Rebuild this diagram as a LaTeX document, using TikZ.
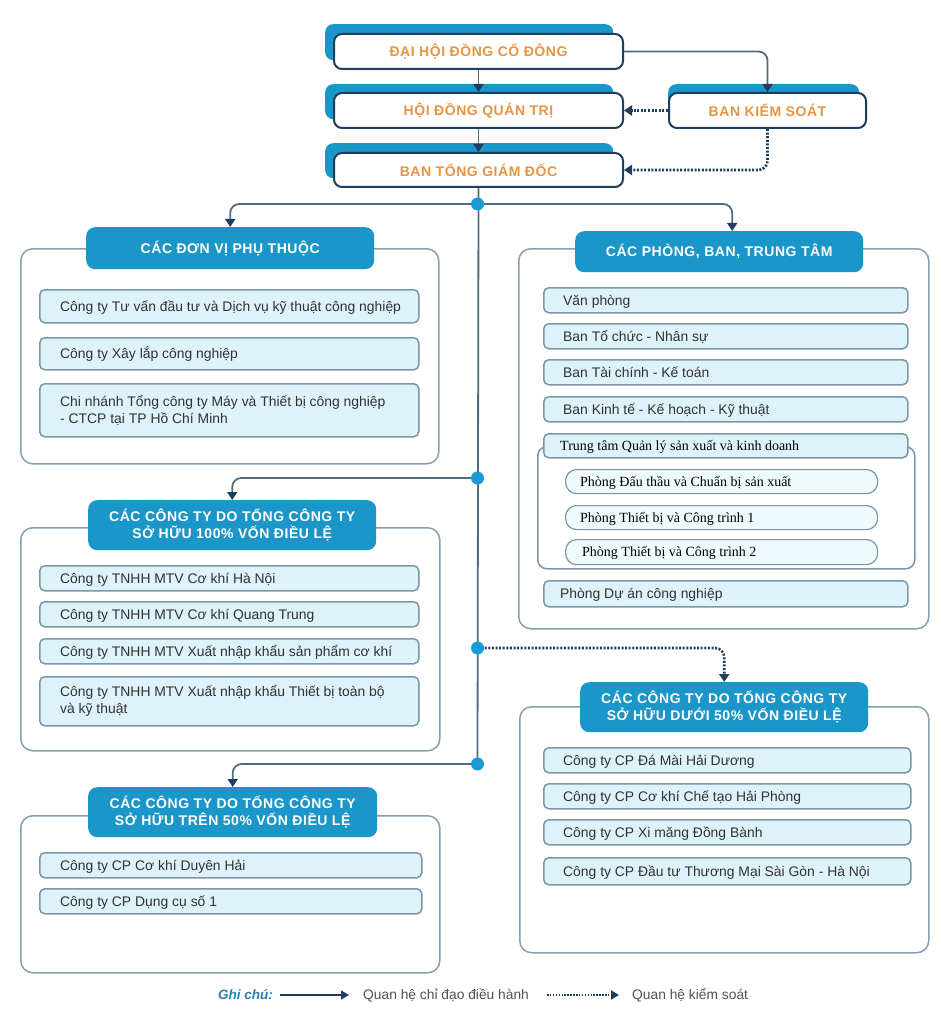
\documentclass[tikz,border=0pt]{standalone}
\usepackage{fontspec}
\setmainfont{Liberation Sans}
\newfontfamily\tnr{Liberation Serif}
\usetikzlibrary{arrows.meta}
\definecolor{hblue}{RGB}{27,150,200}
\definecolor{navy}{RGB}{30,62,96}
\definecolor{conn}{RGB}{84,106,126}
\definecolor{itemfill}{RGB}{222,242,250}
\definecolor{subfill}{RGB}{240,249,253}
\definecolor{itemdraw}{RGB}{122,150,168}
\definecolor{framedraw}{RGB}{135,160,176}
\definecolor{orangetxt}{RGB}{228,150,66}
\definecolor{txtgray}{RGB}{50,50,50}
\definecolor{dotblue}{RGB}{26,154,212}
\definecolor{legblue}{RGB}{40,130,180}
\tikzset{
 topbox/.style={draw=navy, line width=2pt, fill=white, rounded corners=8pt, text=orangetxt,
   font={\fontsize{14}{16}\selectfont\bfseries\addfontfeature{LetterSpace=4}}},
 topshadow/.style={fill=hblue, rounded corners=8pt},
 hdr/.style={fill=hblue, rounded corners=9pt, text=white, align=center,
   font={\fontsize{14}{17}\selectfont\bfseries\addfontfeature{LetterSpace=4}}},
 framebox/.style={draw=framedraw, line width=1.5pt, fill=white, rounded corners=12pt},
 innerframe/.style={draw=itemdraw, line width=1.5pt, fill=white, rounded corners=9pt},
 itembox/.style={draw=itemdraw, line width=1.5pt, fill=itemfill, rounded corners=5pt},
 subbox/.style={draw=itemdraw, line width=1.2pt, fill=subfill, rounded corners=11pt},
 itemtext/.style={text=txtgray, font={\fontsize{13.9}{17}\selectfont}, align=left, inner sep=0pt, anchor=base west},
 itemtwo/.style={text=txtgray, font={\fontsize{13.9}{17}\selectfont}, align=left, inner sep=0pt, anchor=west},
 serftext/.style={text=black, font={\tnr\fontsize{14}{16}\selectfont}, inner sep=0pt, anchor=base west},
 solidarrow/.style={draw=conn, line width=1.8pt, rounded corners=9pt, -{Triangle[length=8pt,width=10pt,color=navy]}},
 trunk/.style={draw=conn, line width=1.8pt},
 dotarrow/.style={draw=navy, line width=2.6pt, dash pattern=on 2pt off 1.6pt, rounded corners=9pt, -{Triangle[length=8pt,width=10pt]}},
 junction/.style={circle, fill=dotblue, minimum size=13pt, inner sep=0pt},
 legtext/.style={text=txtgray!85, font={\fontsize{13.8}{15}\selectfont}, inner sep=0pt, anchor=west},
}
\newcommand\bx[7]{\pgfmathsetmacro\bw{#5-#3}\pgfmathsetmacro\bh{#6-#4}%
 \node[#1, minimum width=\bw pt, minimum height=\bh pt, anchor=north west, inner sep=0pt] (#2) at (#3,#4) {#7};}
% #1 style, #2 name, #3 box, #4 xshift, #5 text
\newcommand\itxt[5]{\node[#1] (#2) at ([xshift=#4pt,yshift=-4.8pt]#3.west) {#5};}
\begin{document}
\begin{tikzpicture}[x=1pt,y=-1pt]
\useasboundingbox[fill=white] (0,0) rectangle (940,1024);
% ---------- top boxes ----------
\bx{topshadow}{b1s}{325}{24}{613}{60}{}
\bx{topbox}{b1}{333}{33}{622}{68}{ĐẠI HỘI ĐỒNG CỔ ĐÔNG}
\bx{topshadow}{b2s}{325}{84}{613}{119}{}
\bx{topbox}{b2}{333}{92}{622}{127}{HỘI ĐỒNG QUẢN TRỊ}
\bx{topshadow}{b3s}{325}{143}{613}{178}{}
\bx{topbox}{b3}{333}{152}{622}{186}{BAN TỔNG GIÁM ĐỐC}
\bx{topshadow}{bkss}{668}{84}{859}{119}{}
\bx{topbox}{bks}{668}{92}{865}{127}{BAN KIỂM SOÁT}
% ---------- junction coordinates ----------
\coordinate (j1) at (477.5,204);
\coordinate (j2) at (477.5,478);
\coordinate (j3) at (477.5,648);
\coordinate (j4) at (477.5,764);
% ---------- section 1 ----------
\bx{framebox}{fr1}{20}{248}{438}{463}{}
\bx{hdr}{h1}{86}{227}{374}{269}{CÁC ĐƠN VỊ PHỤ THUỘC}
\bx{itembox}{d1}{39}{289}{418}{322}{}
\bx{itembox}{d2}{39}{337}{418}{369}{}
\bx{itembox}{d3}{39}{383}{418}{436}{}
\itxt{itemtext}{d1t}{d1}{21}{Công ty Tư vấn đầu tư và Dịch vụ kỹ thuật công nghiệp}
\itxt{itemtext}{d2t}{d2}{21}{Công ty Xây lắp công nghiệp}
\node[itemtwo] (d3t) at ([xshift=21pt]d3.west) {Chi nhánh Tổng công ty Máy và Thiết bị công nghiệp\\- CTCP tại TP Hồ Chí Minh};
% ---------- section 2 (right) ----------
\bx{framebox}{fr2}{518}{248}{928}{628}{}
\bx{hdr}{h2}{575}{231}{863}{272}{CÁC PHÒNG, BAN, TRUNG TÂM}
\bx{itembox}{p1}{543}{287}{907}{312}{}
\bx{itembox}{p2}{543}{323}{907}{348}{}
\bx{itembox}{p3}{543}{359}{907}{384}{}
\bx{itembox}{p4}{543}{396}{907}{421}{}
\bx{innerframe}{ttf}{537}{446}{914}{568}{}
\bx{itembox}{p5}{543}{433}{907}{457}{}
\bx{subbox}{s1}{565}{469}{877}{493}{}
\bx{subbox}{s2}{565}{505}{877}{529}{}
\bx{subbox}{s3}{565}{539}{877}{564}{}
\bx{itembox}{p6}{543}{580}{907}{606}{}
\itxt{itemtext}{p1t}{p1}{20}{Văn phòng}
\itxt{itemtext}{p2t}{p2}{20}{Ban Tổ chức - Nhân sự}
\itxt{itemtext}{p3t}{p3}{20}{Ban Tài chính - Kế toán}
\itxt{itemtext}{p4t}{p4}{20}{Ban Kinh tế - Kế hoạch - Kỹ thuật}
\itxt{serftext}{p5t}{p5}{17}{Trung tâm Quản lý sản xuất và kinh doanh}
\itxt{serftext}{s1t}{s1}{15}{Phòng Đấu thầu và Chuẩn bị sản xuất}
\itxt{serftext}{s2t}{s2}{15}{Phòng Thiết bị và Công trình 1}
\itxt{serftext}{s3t}{s3}{17}{Phòng Thiết bị và Công trình 2}
\itxt{itemtext}{p6t}{p6}{17}{Phòng Dự án công nghiệp}
% ---------- section 3 (100%) ----------
\bx{framebox}{fr3}{20}{527}{439}{750}{}
\bx{hdr}{h3}{88}{500}{376}{550}{CÁC CÔNG TY DO TỔNG CÔNG TY\\SỞ HỮU 100\% VỐN ĐIỀU LỆ}
\bx{itembox}{e1}{39}{565}{418}{590}{}
\bx{itembox}{e2}{39}{601}{418}{626}{}
\bx{itembox}{e3}{39}{638}{418}{663}{}
\bx{itembox}{e4}{39}{676}{418}{725}{}
\itxt{itemtext}{e1t}{e1}{21}{Công ty TNHH MTV Cơ khí Hà Nội}
\itxt{itemtext}{e2t}{e2}{21}{Công ty TNHH MTV Cơ khí Quang Trung}
\itxt{itemtext}{e3t}{e3}{21}{Công ty TNHH MTV Xuất nhập khẩu sản phẩm cơ khí}
\node[itemtwo] (e4t) at ([xshift=21pt]e4.west) {Công ty TNHH MTV Xuất nhập khẩu Thiết bị toàn bộ\\và kỹ thuật};
% ---------- section 4 (duoi 50%) ----------
\bx{framebox}{fr4}{519}{706}{928}{952}{}
\bx{hdr}{h4}{580}{682}{868}{732}{CÁC CÔNG TY DO TỔNG CÔNG TY\\SỞ HỮU DƯỚI 50\% VỐN ĐIỀU LỆ}
\bx{itembox}{g1}{543}{747}{910}{772}{}
\bx{itembox}{g2}{543}{783}{910}{808}{}
\bx{itembox}{g3}{543}{819}{910}{844}{}
\bx{itembox}{g4}{543}{857}{910}{884}{}
\itxt{itemtext}{g1t}{g1}{20}{Công ty CP Đá Mài Hải Dương}
\itxt{itemtext}{g2t}{g2}{20}{Công ty CP Cơ khí Chế tạo Hải Phòng}
\itxt{itemtext}{g3t}{g3}{20}{Công ty CP Xi măng Đồng Bành}
\itxt{itemtext}{g4t}{g4}{20}{Công ty CP Đầu tư Thương Mại Sài Gòn - Hà Nội}
% ---------- section 5 (tren 50%) ----------
\bx{framebox}{fr5}{20}{815}{439}{972}{}
\bx{hdr}{h5}{88}{787}{377}{837}{CÁC CÔNG TY DO TỔNG CÔNG TY\\SỞ HỮU TRÊN 50\% VỐN ĐIỀU LỆ}
\bx{itembox}{f1}{39}{852}{421}{877}{}
\bx{itembox}{f2}{39}{888}{421}{913}{}
\itxt{itemtext}{f1t}{f1}{21}{Công ty CP Cơ khí Duyên Hải}
\itxt{itemtext}{f2t}{f2}{21}{Công ty CP Dụng cụ số 1}
% ---------- connectors ----------
\draw[solidarrow] (b1.south) -- (b2.north);
\draw[solidarrow] (b2.south) -- (b3.north);
\draw[solidarrow] (b1.east) -| (bks.north);
\draw[dotarrow] (bks.west) -- (b2.east);
\draw[dotarrow] (bks.south) |- (b3.east);
\draw[trunk] (b3.south) -- (j4);
\draw[solidarrow] (j1) -| (h1.north);
\draw[solidarrow] (j1) -| ([xshift=13pt]h2.north);
\draw[solidarrow] (j2) -| (h3.north);
\draw[dotarrow] (j3) -| (h4.north);
\draw[solidarrow] (j4) -| (h5.north);
\node[junction] (dot1) at (j1) {};
\node[junction] (dot2) at (j2) {};
\node[junction] (dot3) at (j3) {};
\node[junction] (dot4) at (j4) {};
% ---------- legend ----------
\node[inner sep=0pt, anchor=west, text=legblue, font={\fontsize{13.5}{15}\selectfont\bfseries\itshape}] (gc) at (218,995) {Ghi chú:};
\coordinate (la1) at (280,995);
\coordinate (la2) at (349,995);
\coordinate (lb1) at (547,995);
\coordinate (lb2) at (619,995);
\draw[draw=navy, line width=1.3pt, -{Triangle[length=8pt,width=9pt]}] (la1) -- (la2);
\draw[draw=navy, line width=2pt, dash pattern=on 1.5pt off 1.4pt, -{Triangle[length=8pt,width=9pt]}] (lb1) -- (lb2);
\node[legtext] (l1) at (363,995) {Quan hệ chỉ đạo điều hành};
\node[legtext] (l2) at (632,995) {Quan hệ kiểm soát};
\end{tikzpicture}
\end{document}
